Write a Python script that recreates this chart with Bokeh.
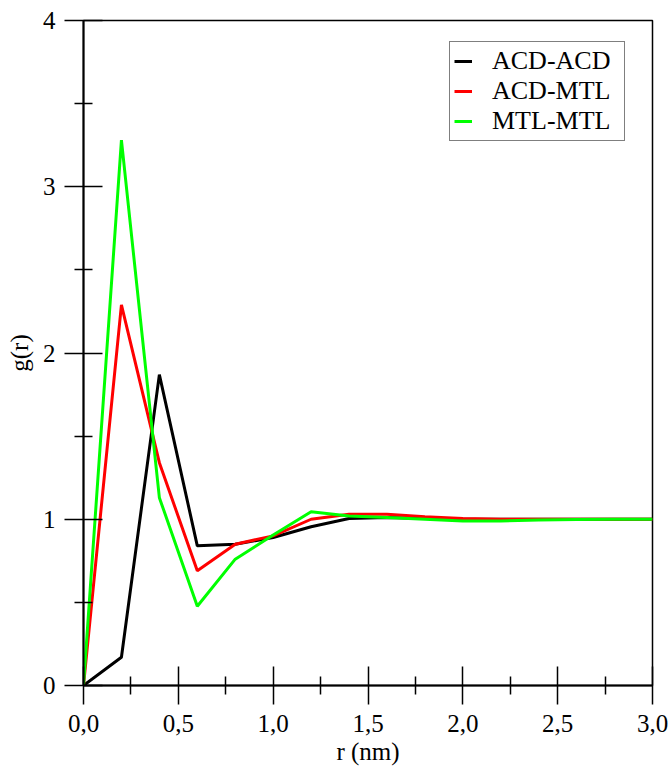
from bokeh.plotting import figure
from bokeh.models import Range1d, FixedTicker, CustomJSTickFormatter, Legend, LegendItem
from bokeh.embed import file_html
from bokeh.resources import INLINE

r = [0.0, 0.2, 0.4, 0.6, 0.8, 1.0, 1.2, 1.4, 1.6, 1.8, 2.0, 2.2, 2.4, 2.6, 2.8, 3.0]
acd_acd = [0.0, 0.17, 1.87, 0.84, 0.85, 0.89, 0.955, 1.005, 1.01, 1.005, 1.0, 1.0, 1.0, 1.0, 1.0, 1.0]
acd_mtl = [0.0, 2.29, 1.34, 0.69, 0.85, 0.90, 1.0, 1.03, 1.03, 1.015, 1.005, 1.0, 1.0, 1.0, 1.0, 1.0]
mtl_mtl = [0.0, 3.28, 1.13, 0.477, 0.76, 0.905, 1.045, 1.02, 1.01, 1.0, 0.99, 0.99, 0.995, 0.998, 1.0, 1.0]

series = [("ACD-ACD", acd_acd, "#000000"), ("ACD-MTL", acd_mtl, "#ff0000"), ("MTL-MTL", mtl_mtl, "#00ff00")]

x_major = [0.0, 0.5, 1.0, 1.5, 2.0, 2.5, 3.0]
x_minor = [0.25, 0.75, 1.25, 1.75, 2.25, 2.75]
y_major = [0, 1, 2, 3, 4]
y_minor = [0.5, 1.5, 2.5, 3.5]
x_title = "r (nm)"
y_title = "g(r)"

FONT = "Liberation Serif"

p = figure(width=671, height=767, output_backend="svg", toolbar_location=None,
           x_range=Range1d(0, 3), y_range=Range1d(0, 4),
           min_border_left=83, min_border_right=19, min_border_top=20, min_border_bottom=82)
p.background_fill_color = "white"
p.border_fill_color = "white"
p.outline_line_color = "black"
p.outline_line_width = 1.5
p.xgrid.visible = False
p.ygrid.visible = False

items = []
for name, ys, col in series:
    rr = p.line(r, ys, line_color=col, line_width=3)
    items.append(LegendItem(label=name, renderers=[rr]))

for ax in (p.xaxis[0], p.yaxis[0]):
    ax.axis_line_width = 2
    ax.major_tick_line_width = 1.5
    ax.minor_tick_line_width = 1.5
    ax.major_tick_in = 19
    ax.major_tick_out = 19
    ax.minor_tick_in = 9
    ax.minor_tick_out = 9
    ax.major_label_text_font = FONT
    ax.major_label_text_font_size = "25px"
    ax.major_label_text_color = "black"
    ax.axis_label_text_font = FONT
    ax.axis_label_text_font_size = "25px"
    ax.axis_label_text_font_style = "normal"
    ax.axis_label_text_color = "black"

p.xaxis.ticker = FixedTicker(ticks=x_major, minor_ticks=x_minor)
p.yaxis.ticker = FixedTicker(ticks=y_major, minor_ticks=y_minor)
p.xaxis.formatter = CustomJSTickFormatter(code="return tick.toFixed(1).replace('.', ',');")
p.yaxis.formatter = CustomJSTickFormatter(code="return tick.toFixed(0);")
p.xaxis.axis_label = x_title
p.yaxis.axis_label = y_title
p.xaxis.major_label_standoff = 10
p.xaxis.axis_label_standoff = 3
p.yaxis.major_label_standoff = 9
p.yaxis.axis_label_standoff = 7

legend = Legend(items=items, location=(366, 544))
legend.label_text_font = FONT
legend.label_text_font_size = "26px"
legend.label_text_color = "black"
legend.glyph_width = 18
legend.label_standoff = 20
legend.label_width = 128
legend.padding = 4
legend.spacing = 0
legend.margin = 0
legend.border_line_color = "black"
legend.border_line_width = 1.2
legend.background_fill_alpha = 1
p.add_layout(legend)

open("out.html", "w").write(file_html(p, INLINE))
